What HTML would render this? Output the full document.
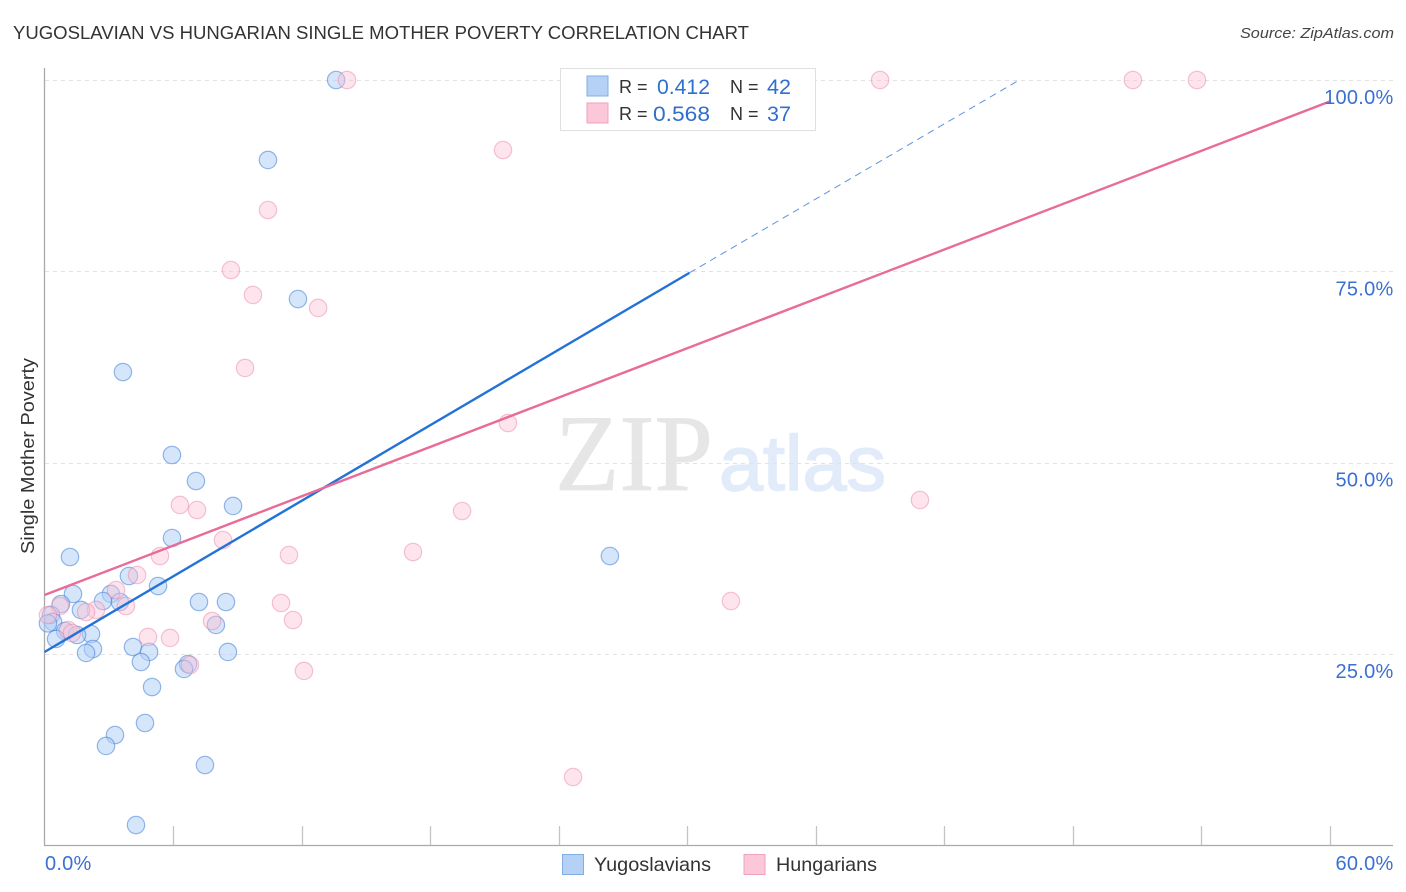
<!DOCTYPE html>
<html lang="en">
<head>
<meta charset="utf-8">
<title>Yugoslavian vs Hungarian Single Mother Poverty Correlation Chart</title>
<style>
html,body{margin:0;padding:0;background:#fff;}
svg{display:block;font-family:"Liberation Sans",sans-serif;}
</style>
</head>
<body>
<svg id="chart" xmlns="http://www.w3.org/2000/svg" width="1406" height="892" viewBox="0 0 1406 892">
  <rect width="1406" height="892" fill="#fff"/>
  <text x="13" y="39" font-size="18.5" fill="#333" textLength="736" lengthAdjust="spacingAndGlyphs">YUGOSLAVIAN VS HUNGARIAN SINGLE MOTHER POVERTY CORRELATION CHART</text>
  <text x="1394" y="38" font-size="15" font-style="italic" fill="#444" text-anchor="end" textLength="154" lengthAdjust="spacingAndGlyphs">Source: ZipAtlas.com</text>

  <g>
    <text x="555" y="490" font-family="'Liberation Serif',serif" font-size="109" fill="#e6e6e6" stroke="#e6e6e6" stroke-width="0.8" textLength="158" lengthAdjust="spacingAndGlyphs">ZIP</text>
    <text x="719" y="490" font-size="78" fill="#e2ebf9" stroke="#e2ebf9" stroke-width="1.6" textLength="167" lengthAdjust="spacingAndGlyphs">atlas</text>
  </g>

  <g id="grid"></g>
  <g id="axes"></g>
  <g id="pointsBlue"></g>
  <g id="pointsPink"></g>
  <g id="trends"></g>
  <g id="labels"></g>

  <text transform="translate(34 456) rotate(-90)" font-size="18.5" fill="#333" text-anchor="middle" textLength="196" lengthAdjust="spacingAndGlyphs">Single Mother Poverty</text>

  <g>
    <rect x="560.5" y="68.5" width="255" height="62" fill="#fff" stroke="#e0e0e0" stroke-width="1"/>
    <rect x="587" y="76" width="21" height="20" fill="#b5d2f6" stroke="#82aee6" stroke-width="1"/>
    <rect x="587" y="103" width="21" height="20" fill="#fcc7d9" stroke="#f0a0bd" stroke-width="1"/>
    <text x="619" y="93" font-size="18" fill="#333">R =</text>
    <text x="710" y="94" font-size="21" fill="#2f6fd0" text-anchor="end" textLength="53" lengthAdjust="spacingAndGlyphs">0.412</text>
    <text x="730" y="93" font-size="18" fill="#333">N =</text>
    <text x="791" y="94" font-size="21" fill="#2f6fd0" text-anchor="end" textLength="24" lengthAdjust="spacingAndGlyphs">42</text>
    <text x="619" y="120" font-size="18" fill="#333">R =</text>
    <text x="710" y="121" font-size="21" fill="#2f6fd0" text-anchor="end" textLength="57" lengthAdjust="spacingAndGlyphs">0.568</text>
    <text x="730" y="120" font-size="18" fill="#333">N =</text>
    <text x="791" y="121" font-size="21" fill="#2f6fd0" text-anchor="end" textLength="24" lengthAdjust="spacingAndGlyphs">37</text>
  </g>

  <g>
    <rect x="562.5" y="854.5" width="21" height="20" fill="#b5d2f6" stroke="#82aee6" stroke-width="1"/>
    <text x="594" y="871" font-size="19.5" fill="#333" textLength="117" lengthAdjust="spacingAndGlyphs">Yugoslavians</text>
    <rect x="744" y="854.5" width="21" height="20" fill="#fcc7d9" stroke="#f0a0bd" stroke-width="1"/>
    <text x="776" y="871" font-size="19.5" fill="#333" textLength="101" lengthAdjust="spacingAndGlyphs">Hungarians</text>
  </g>
</svg>
<script>
// ---- chart data (percent values) ----
var yugoslavianX = [13.61,10.43,11.83,3.66,5.95,7.07,8.80,5.95,1.19,26.39,3.94,5.30,1.33,3.10,2.73,3.52,7.21,8.47,0.77,1.70,0.30,0.40,8.00,0.96,2.17,1.52,0.54,4.13,2.26,1.94,4.88,8.56,4.50,6.70,6.51,5.02,4.69,3.29,2.87,7.49,4.27,0.16];
var yugoslavianY = [100,89.55,71.38,61.84,51.0,47.6,44.34,40.15,37.67,37.8,35.19,33.88,32.84,32.84,31.92,31.79,31.79,31.79,31.53,30.75,30.1,29.18,28.79,28.0,27.61,27.48,26.96,25.91,25.65,25.13,25.26,25.26,23.95,23.69,23.04,20.68,15.98,14.41,12.98,10.49,2.65,29.0];
var hungarianX = [14.12,39.0,50.8,53.79,21.4,10.43,8.70,9.73,12.77,9.36,21.63,40.86,6.32,7.12,19.49,8.33,5.39,11.41,17.2,4.32,3.34,11.04,32.04,3.80,2.40,0.72,1.94,7.82,11.6,0.16,1.10,1.28,4.83,5.86,6.79,12.11,24.67];
var hungarianY = [100,100,100,100,90.85,83.01,75.17,71.91,70.21,62.37,55.18,45.12,44.47,43.81,43.68,39.89,37.8,37.93,38.32,35.32,33.36,31.66,31.92,31.27,30.75,31.27,30.48,29.31,29.44,30.09,28.13,27.74,27.22,27.09,23.56,22.78,8.92];
var xTickValues = [6,12,18,24,30,36,42,48,54,60];
var yTickValues = [25,50,75,100];
var yTickLabels = ["25.0%","50.0%","75.0%","100.0%"];
var xEndLabels = ["0.0%","60.0%"];
var blueTrendX = [0,30.1];
var blueTrendY = [25.26,74.8];
var blueDashX = [30.1,45.5];
var blueDashY = [74.8,100];
var pinkTrendX = [0,60];
var pinkTrendY = [32.7,97.2];

// ---- axis functions ----
function xScale(v){ return 44.5 + v * 21.425; }
function yScale(v){ return 845.3 - v * 7.653; }

var NS = 'http://www.w3.org/2000/svg';
function make(parent, tag, attrs){
  var el = document.createElementNS(NS, tag);
  for (var k in attrs) el.setAttribute(k, attrs[k]);
  parent.appendChild(el);
  return el;
}

var grid = document.getElementById('grid');
var axes = document.getElementById('axes');
var labels = document.getElementById('labels');

yTickValues.forEach(function(v, i){
  var y = Math.round(yScale(v)) + 0.5;
  var g = make(grid, 'line', {x1:45, x2:1393, y1:y, y2:y, stroke:'#e2e2e2', 'stroke-width':1, 'stroke-dasharray':'4 4'});
  
  
  var t = make(labels, 'text', {x:1393.5, y:yScale(v) + 24, 'font-size':20, fill:'#3a70d2', 'text-anchor':'end', 'letter-spacing':'0.25'});
  t.textContent = yTickLabels[i];
  
  
});

var axisY = make(axes, 'line', {x1:44.5, x2:44.5, y1:68, y2:846, stroke:'#aaa', 'stroke-width':1.3});


var axisX = make(axes, 'line', {x1:44, x2:1393, y1:845.5, y2:845.5, stroke:'#aaa', 'stroke-width':1.3});



xTickValues.forEach(function(v){
  var x = Math.round(xScale(v)) + 0.5;
  var tick = make(axes, 'line', {x1:x, x2:x, y1:826, y2:845, stroke:'#c4c4c4', 'stroke-width':1.3});
  
  
});

var x0 = make(labels, 'text', {x:45, y:870, 'font-size':20, fill:'#3a70d2', 'letter-spacing':'0.25'});
x0.textContent = xEndLabels[0];


var x1 = make(labels, 'text', {x:1393.5, y:870, 'font-size':20, fill:'#3a70d2', 'text-anchor':'end', 'letter-spacing':'0.25'});
x1.textContent = xEndLabels[1];



var blueGroup = document.getElementById('pointsBlue');
yugoslavianX.forEach(function(v, i){
  var c = make(blueGroup, 'circle', {cx:xScale(v), cy:yScale(yugoslavianY[i]), r:8.7, fill:'#b3d0f5', 'fill-opacity':0.55, stroke:'#3f80d8', 'stroke-opacity':0.55, 'stroke-width':1.2});
  
  
});

var pinkGroup = document.getElementById('pointsPink');
hungarianX.forEach(function(v, i){
  var c = make(pinkGroup, 'circle', {cx:xScale(v), cy:yScale(hungarianY[i]), r:8.7, fill:'#fac4d7', 'fill-opacity':0.45, stroke:'#e77fa6', 'stroke-opacity':0.45, 'stroke-width':1.2});
  
  
});

var trends = document.getElementById('trends');
var blueLine = make(trends, 'line', {x1:xScale(blueTrendX[0]), y1:yScale(blueTrendY[0]), x2:xScale(blueTrendX[1]), y2:yScale(blueTrendY[1]), stroke:'#2272d8', 'stroke-width':2.4});


var blueDash = make(trends, 'line', {x1:xScale(blueDashX[0]), y1:yScale(blueDashY[0]), x2:xScale(blueDashX[1]), y2:yScale(blueDashY[1]), stroke:'#5a94de', 'stroke-width':1, 'stroke-dasharray':'7 5'});


var pinkLine = make(trends, 'line', {x1:xScale(pinkTrendX[0]), y1:yScale(pinkTrendY[0]), x2:xScale(pinkTrendX[1]), y2:yScale(pinkTrendY[1]), stroke:'#e86b98', 'stroke-width':2.4});


</script>
</body>
</html>
